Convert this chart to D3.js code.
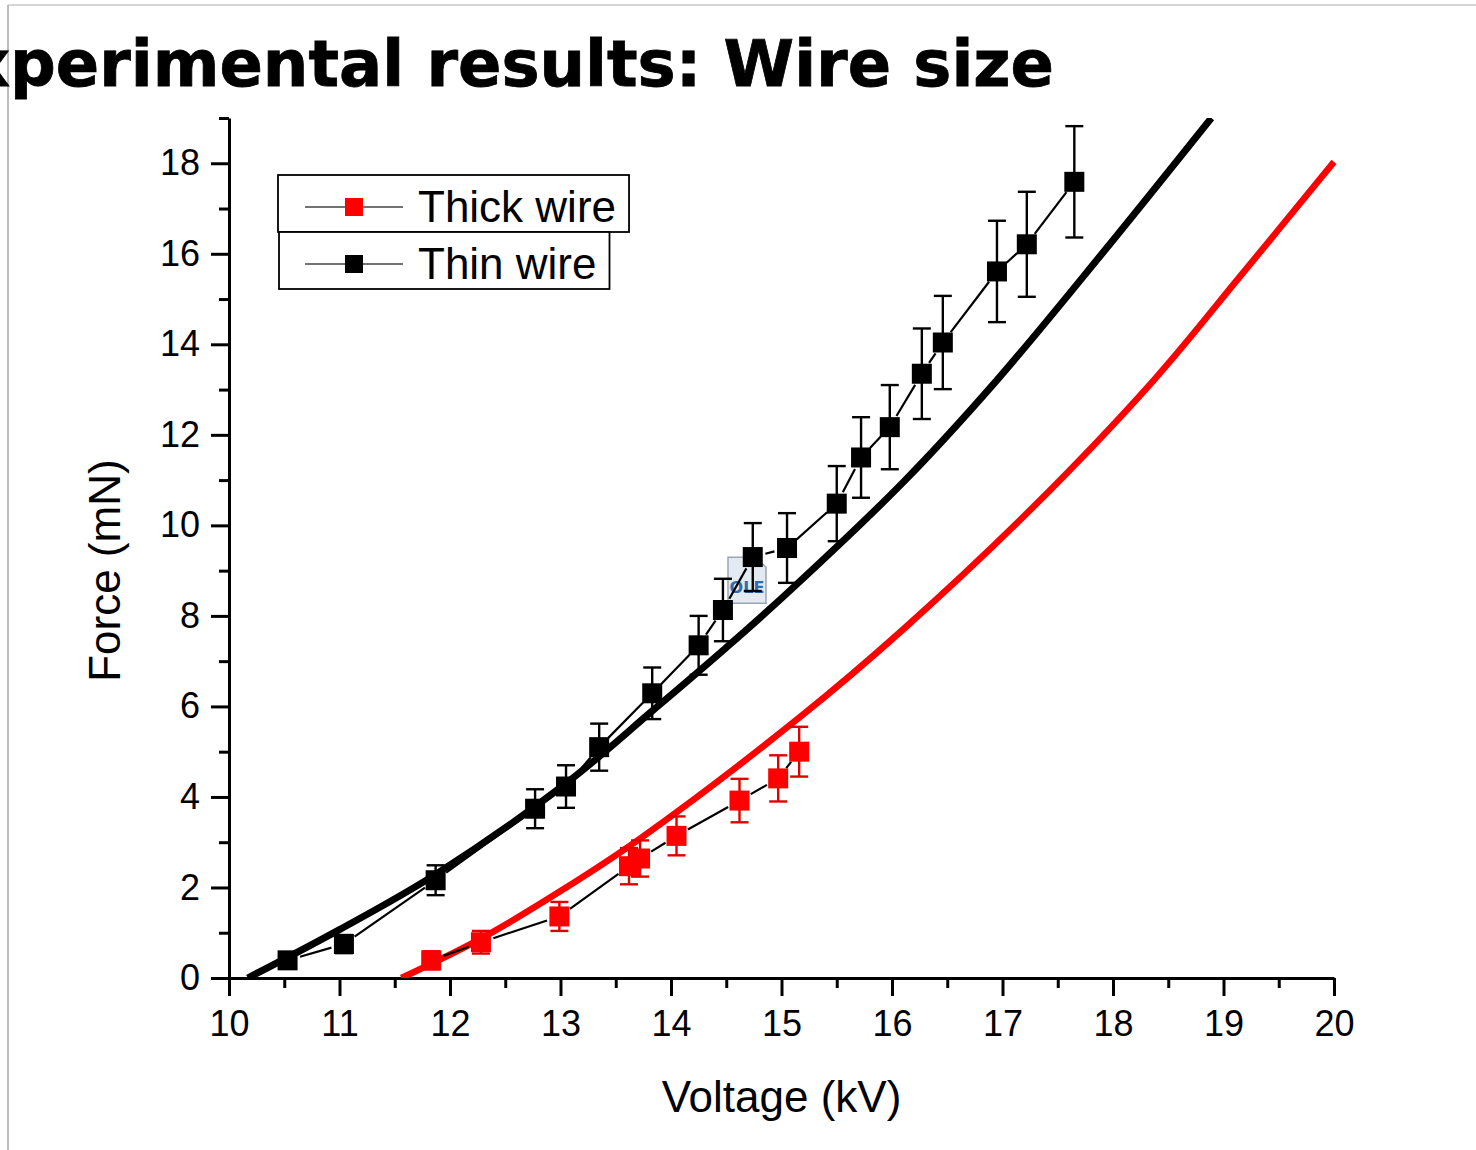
<!DOCTYPE html>
<html>
<head>
<meta charset="utf-8">
<title>Experimental results: Wire size</title>
<script src="https://cdn.jsdelivr.net/npm/d3@7"></script>
<style>
  body { margin: 0; background: #fff; }
  svg { display: block; background: #fff; }
  .axis path, .axis line { stroke: #000; stroke-width: 3; }
  .axis text { font-family: "Liberation Sans", Arial, sans-serif; font-size: 36px; fill: #000; }
  .label { font-family: "Liberation Sans", Arial, sans-serif; font-size: 44px; fill: #000; }
</style>
</head>
<body>
<svg id="chart"></svg>
<script>
// Thin wire (black squares) - voltage kV, force mN, error +/-
const thinVoltage = [10.53, 11.04, 11.87, 12.77, 13.05, 13.35, 13.83, 14.25, 14.47, 14.74, 15.05, 15.50, 15.72, 15.98, 16.27, 16.46, 16.95, 17.22, 17.65];
const thinForce   = [0.39, 0.75, 2.16, 3.74, 4.23, 5.10, 6.29, 7.35, 8.13, 9.30, 9.50, 10.48, 11.50, 12.17, 13.35, 14.04, 15.61, 16.21, 17.59];
const thinError   = [0.15, 0.2, 0.33, 0.43, 0.47, 0.52, 0.57, 0.65, 0.69, 0.75, 0.77, 0.83, 0.89, 0.93, 1.0, 1.03, 1.12, 1.16, 1.23];

// Thick wire (red squares)
const thickVoltage = [11.83, 12.28, 12.99, 13.62, 13.72, 14.05, 14.62, 14.97, 15.16];
const thickForce   = [0.39, 0.79, 1.36, 2.47, 2.64, 3.14, 3.92, 4.41, 5.00];
const thickError   = [0.2, 0.25, 0.32, 0.4, 0.4, 0.43, 0.48, 0.51, 0.55];

// model curves
const thinFitVoltage  = [10.17, 11.0, 11.87, 13.05, 13.84, 14.5, 15.05, 16.1, 16.95, 17.9, 18.89];
const thinFitForce    = [0, 1.07, 2.29, 4.3, 5.92, 7.3, 8.5, 10.95, 13.21, 16.0, 19.0];
const thickFitVoltage = [11.56, 12.28, 13.0, 13.72, 15.17, 16.1, 17.28, 18.37, 19.15, 20.0];
const thickFitForce   = [0, 0.87, 1.92, 3.08, 5.77, 7.7, 10.41, 13.21, 15.5, 18.03];

// axis ticks
const xMajorTicks = [10, 11, 12, 13, 14, 15, 16, 17, 18, 19, 20];
const xMinorTicks = [10.5, 11.5, 12.5, 13.5, 14.5, 15.5, 16.5, 17.5, 18.5, 19.5];
const yMajorTicks = [0, 2, 4, 6, 8, 10, 12, 14, 16, 18];
const yMinorTicks = [1, 3, 5, 7, 9, 11, 13, 15, 17, 19];

const titleText = 'Experimental results: Wire size';
const legendNames = ['Thick wire', 'Thin wire'];

class ForceChart {

    constructor(_config, _series) {
        this.config = {
            parentElement: _config.parentElement,
            containerWidth: _config.containerWidth || 1476,
            containerHeight: _config.containerHeight || 1150,
            margin: {top: 118, right: 142, bottom: 172, left: 229}
        }
        this.series = _series;
        this.initVis();
    }

    initVis() {
        let vis = this;

        vis.width = vis.config.containerWidth - vis.config.margin.left - vis.config.margin.right;
        vis.height = vis.config.containerHeight - vis.config.margin.top - vis.config.margin.bottom;

        vis.svg = d3.select(vis.config.parentElement)
            .attr('width', vis.config.containerWidth)
            .attr('height', vis.config.containerHeight);

        // slide frame
        vis.svg.append('line')
            .attr('x1', 8).attr('y1', 5).attr('x2', vis.config.containerWidth).attr('y2', 5)
            .attr('stroke', '#d6d6d6').attr('stroke-width', 2);
        vis.svg.append('line')
            .attr('x1', 8).attr('y1', 5).attr('x2', 8).attr('y2', vis.config.containerHeight)
            .attr('stroke', '#bcbcbc').attr('stroke-width', 2);

        // slide title, its first letter runs off the left edge as on the slide
        vis.svg.append('text')
            .attr('x', 1054)
            .attr('y', 86)
            .attr('text-anchor', 'end')
            .attr('stroke', '#000')
            .attr('stroke-width', 0.8)
            .style('font-family', '"DejaVu Sans", Verdana, sans-serif')
            .style('font-weight', 'bold')
            .style('font-size', '64px')
            .text(titleText);

        vis.chart = vis.svg.append('g')
            .attr('transform', `translate(${vis.config.margin.left},${vis.config.margin.top})`);

        vis.xScale = d3.scaleLinear().domain([10, 20]).range([0, vis.width]);
        vis.yScale = d3.scaleLinear().domain([0, 19]).range([vis.height, 0]);

        vis.chart.append('clipPath').attr('id', 'plot-clip')
            .append('rect')
            .attr('x', 0).attr('y', 0)
            .attr('width', vis.width + 4).attr('height', vis.height);

        // minor ticks first, then major axes on top
        vis.chart.append('g')
            .attr('class', 'axis')
            .attr('transform', `translate(0,${vis.height})`)
            .call(d3.axisBottom(vis.xScale).tickValues(xMinorTicks).tickSize(10).tickSizeOuter(0).tickFormat(''))
            .select('.domain').remove();
        vis.chart.append('g')
            .attr('class', 'axis')
            .call(d3.axisLeft(vis.yScale).tickValues(yMinorTicks).tickSize(10).tickSizeOuter(0).tickFormat(''))
            .select('.domain').remove();

        vis.xAxisG = vis.chart.append('g')
            .attr('class', 'axis x-axis')
            .attr('transform', `translate(0,${vis.height})`)
            .call(d3.axisBottom(vis.xScale).tickValues(xMajorTicks).tickSize(18).tickSizeOuter(0).tickPadding(14).tickFormat(d3.format('d')));

        vis.yAxisG = vis.chart.append('g')
            .attr('class', 'axis y-axis')
            .call(d3.axisLeft(vis.yScale).tickValues(yMajorTicks).tickSize(18).tickSizeOuter(0).tickPadding(11).tickFormat(d3.format('d')));

        vis.svg.append('text')
            .attr('class', 'label')
            .attr('x', vis.config.margin.left + vis.xScale(15))
            .attr('y', 1112)
            .attr('text-anchor', 'middle')
            .text('Voltage (kV)');

        vis.svg.append('text')
            .attr('class', 'label')
            .attr('transform', `translate(120,${vis.config.margin.top + vis.yScale(9.0)}) rotate(-90)`)
            .attr('text-anchor', 'middle')
            .text('Force (mN)');

        vis.renderVis();
    }

    renderVis() {
        let vis = this;
        const x = vis.xScale, y = vis.yScale;

        // embedded-object icon left on the slide
        const ole = vis.chart.append('g')
            .attr('transform', `translate(${x(14.57) - 6},${y(9.25) - 2})`);
        ole.append('path')
            .attr('d', 'M0,0 H28 L38,10 V46 H0 Z')
            .attr('fill', '#e3eaf2').attr('stroke', '#9aa6b4').attr('stroke-width', 1.5);
        ole.append('text')
            .attr('x', 19).attr('y', 36)
            .attr('text-anchor', 'middle')
            .style('font-family', '"DejaVu Sans", sans-serif')
            .style('font-size', '16px')
            .style('font-weight', 'bold')
            .attr('fill', '#2f6db3')
            .text('OLE');

        // fitted curves
        const line = d3.line()
            .x(d => x(d[0]))
            .y(d => y(d[1]))
            .curve(d3.curveCatmullRom.alpha(0.5));

        vis.series.forEach(s => {
            vis.chart.append('path')
                .datum(d3.zip(s.fitX, s.fitY))
                .attr('clip-path', 'url(#plot-clip)')
                .attr('fill', 'none')
                .attr('stroke', s.color)
                .attr('stroke-width', s.fitWidth)
                .attr('d', line);
        });

        const size = 20, gap = 13, cap = 9;

        vis.series.forEach(s => {
            const pts = d3.zip(s.x, s.y, s.err);
            const g = vis.chart.append('g');

            // connecting lines with a gap at each symbol
            g.selectAll('.link')
                .data(d3.pairs(pts))
              .join('line')
                .attr('class', 'link')
                .each(function([a, b]) {
                    const x0 = x(a[0]), y0 = y(a[1]), x1 = x(b[0]), y1 = y(b[1]);
                    const len = Math.hypot(x1 - x0, y1 - y0);
                    const ux = (x1 - x0) / len, uy = (y1 - y0) / len;
                    const g2 = len > 2 * gap ? gap : len / 2;
                    d3.select(this)
                        .attr('x1', x0 + ux * g2).attr('y1', y0 + uy * g2)
                        .attr('x2', x1 - ux * g2).attr('y2', y1 - uy * g2);
                })
                .attr('stroke', '#000')
                .attr('stroke-width', 2.2);

            // error bars
            const eb = g.selectAll('.err')
                .data(pts)
              .join('g')
                .attr('class', 'err')
                .attr('stroke', s.errColor)
                .attr('stroke-width', 2.4);
            eb.append('line')
                .attr('x1', d => x(d[0])).attr('x2', d => x(d[0]))
                .attr('y1', d => y(d[1] + d[2])).attr('y2', d => y(d[1] - d[2]));
            eb.append('line')
                .attr('x1', d => x(d[0]) - cap).attr('x2', d => x(d[0]) + cap)
                .attr('y1', d => y(d[1] + d[2])).attr('y2', d => y(d[1] + d[2]));
            eb.append('line')
                .attr('x1', d => x(d[0]) - cap).attr('x2', d => x(d[0]) + cap)
                .attr('y1', d => y(d[1] - d[2])).attr('y2', d => y(d[1] - d[2]));

            g.selectAll('.pt')
                .data(pts)
              .join('rect')
                .attr('class', 'pt')
                .attr('x', d => x(d[0]) - size / 2)
                .attr('y', d => y(d[1]) - size / 2)
                .attr('width', size)
                .attr('height', size)
                .attr('fill', s.color);
        });

        // legend, two stacked boxes
        const legend = vis.svg.append('g');
        const rows = [{top: 175, left: 278}, {top: 232, left: 279}];
        vis.series.forEach((s, i) => {
            const r = rows[i];
            const lg = legend.append('g');
            const box = lg.append('rect')
                .attr('x', r.left).attr('y', r.top)
                .attr('height', 57)
                .attr('fill', '#fff')
                .attr('stroke', '#000')
                .attr('stroke-width', 1.8);
            lg.append('line')
                .attr('x1', 305).attr('x2', 403)
                .attr('y1', r.top + 32).attr('y2', r.top + 32)
                .attr('stroke', '#444').attr('stroke-width', 1.5);
            lg.append('rect')
                .attr('x', 354 - 9).attr('y', r.top + 32 - 9)
                .attr('width', 18).attr('height', 18)
                .attr('fill', s.color);
            const t = lg.append('text')
                .attr('class', 'label')
                .attr('x', 418)
                .attr('y', r.top + 47)
                .text(s.name);
            const tw = t.node().getComputedTextLength();
            box.attr('width', 418 + tw + 13 - r.left);
        });
    }
}

const seriesList = [
    {name: legendNames[0], color: '#ff0000', errColor: '#e00000', fitWidth: 6.5,
     x: thickVoltage, y: thickForce, err: thickError, fitX: thickFitVoltage, fitY: thickFitForce},
    {name: legendNames[1], color: '#000000', errColor: '#000000', fitWidth: 7,
     x: thinVoltage, y: thinForce, err: thinError, fitX: thinFitVoltage, fitY: thinFitForce}
];

new ForceChart({parentElement: '#chart', containerWidth: 1476, containerHeight: 1150}, seriesList);
</script>
</body>
</html>
